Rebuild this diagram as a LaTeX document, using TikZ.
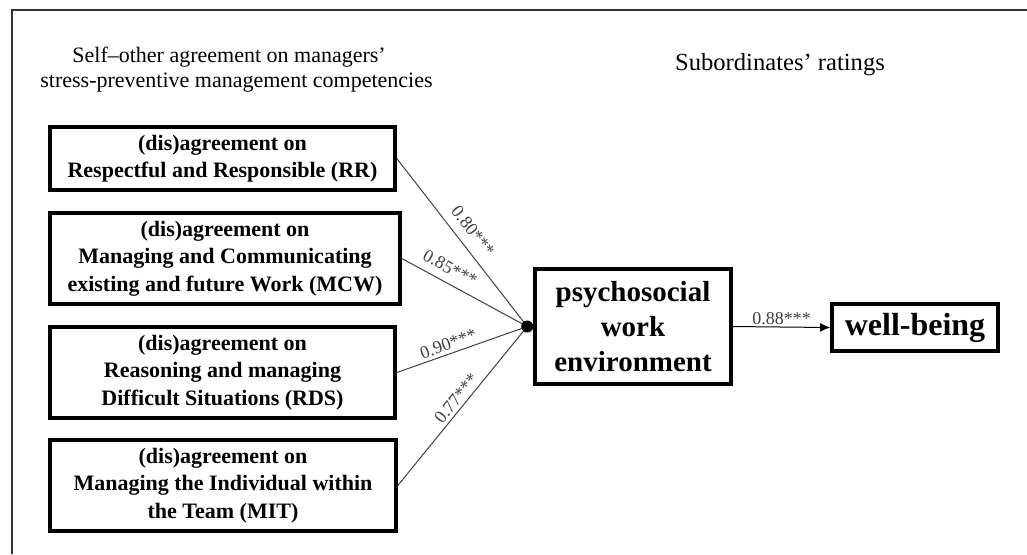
\documentclass[tikz,border=0pt]{standalone}
\usepackage{fontspec}
\setmainfont{Liberation Serif}
\usetikzlibrary{arrows.meta,calc}
\definecolor{line4}{HTML}{404040}

\begin{document}
\begin{tikzpicture}[x=0.5pt, y=-0.5pt,
    dimbox/.style={draw, line width=1.8pt, align=center, inner sep=0pt,
        font=\bfseries\fontsize{11}{13.75}\selectfont},
    bigbox/.style={draw, line width=1.8pt, align=center, inner sep=0pt},
    path/.style={line4, line width=0.5pt},
    coef/.style={line4, inner sep=1pt, font=\fontsize{9}{10}\selectfont}]
            \useasboundingbox (0,0) rectangle (1027,554);
            %%%%%%%%%%%%%%% Frame
            \draw[line width=0.8pt, black!80] (12,554) -- (12,10) -- (1027,10);
            %%%%%%%%%%%%%%% Headings
            \node[anchor=west, align=left, inner sep=0pt, font=\fontsize{11}{12.5}\selectfont] (selfhead) at (40,70)
                {\hspace{16pt}Self\textendash other agreement on managers’\\stress-preventive management competencies};
            \node[inner sep=0pt, font=\fontsize{12.3}{14}\selectfont] (subhead) at (780,65) {Subordinates’ ratings};
            %%%%%%%%%%%%%%% Competency boxes
            \node[dimbox, minimum width=172.5pt, minimum height=31.7pt] (rr) at (222.5,158.5)
                {(dis)agreement on\\Respectful and Responsible (RR)};
            \node[dimbox, minimum width=175pt, minimum height=45.5pt] (mcw) at (225,258.5)
                {(dis)agreement on\\Managing and Communicating\\existing and future Work (MCW)};
            \node[dimbox, minimum width=172.5pt, minimum height=45.5pt] (rds) at (222.5,372.5)
                {(dis)agreement on\\Reasoning and managing\\Difficult Situations (RDS)};
            \node[dimbox, minimum width=173pt, minimum height=45.5pt] (mit) at (223,485.5)
                {(dis)agreement on\\Managing the Individual within\\the Team (MIT)};
            %%%%%%%%%%%%%%% Outcome boxes
            \node[bigbox, minimum width=98pt, minimum height=57.5pt,
                font=\bfseries\fontsize{14.5}{17.5}\selectfont] (pwe) at (633,326.5)
                {psychosocial\\work\\environment};
            \node[bigbox, minimum width=83pt, minimum height=23.5pt,
                font=\bfseries\fontsize{16}{18}\selectfont] (wb) at (915,327.5) {well-being};
            %%%%%%%%%%%%%%% Paths into the work environment
            \coordinate (hub) at ([xshift=-3pt]pwe.west);
            \foreach \src/\p/\off/\val in {rr/0.49/3.5/0.80, mcw/0.33/3/0.85, rds/0.42/0.5/0.90, mit/0.51/0.5/0.77} {
                \draw[path] (\src.east) -- (hub) node[pos=\p, sloped, above=\off pt, coef] {\val***};
            }
            \fill (hub) circle[radius=3pt];
            %%%%%%%%%%%%%%% Path to well-being
            \draw[path, black, -{Latex[length=5pt,width=4.5pt]}] (pwe.east) -- (wb.west)
                node[midway, above, coef] {0.88***};
        \end{tikzpicture}
\end{document}
